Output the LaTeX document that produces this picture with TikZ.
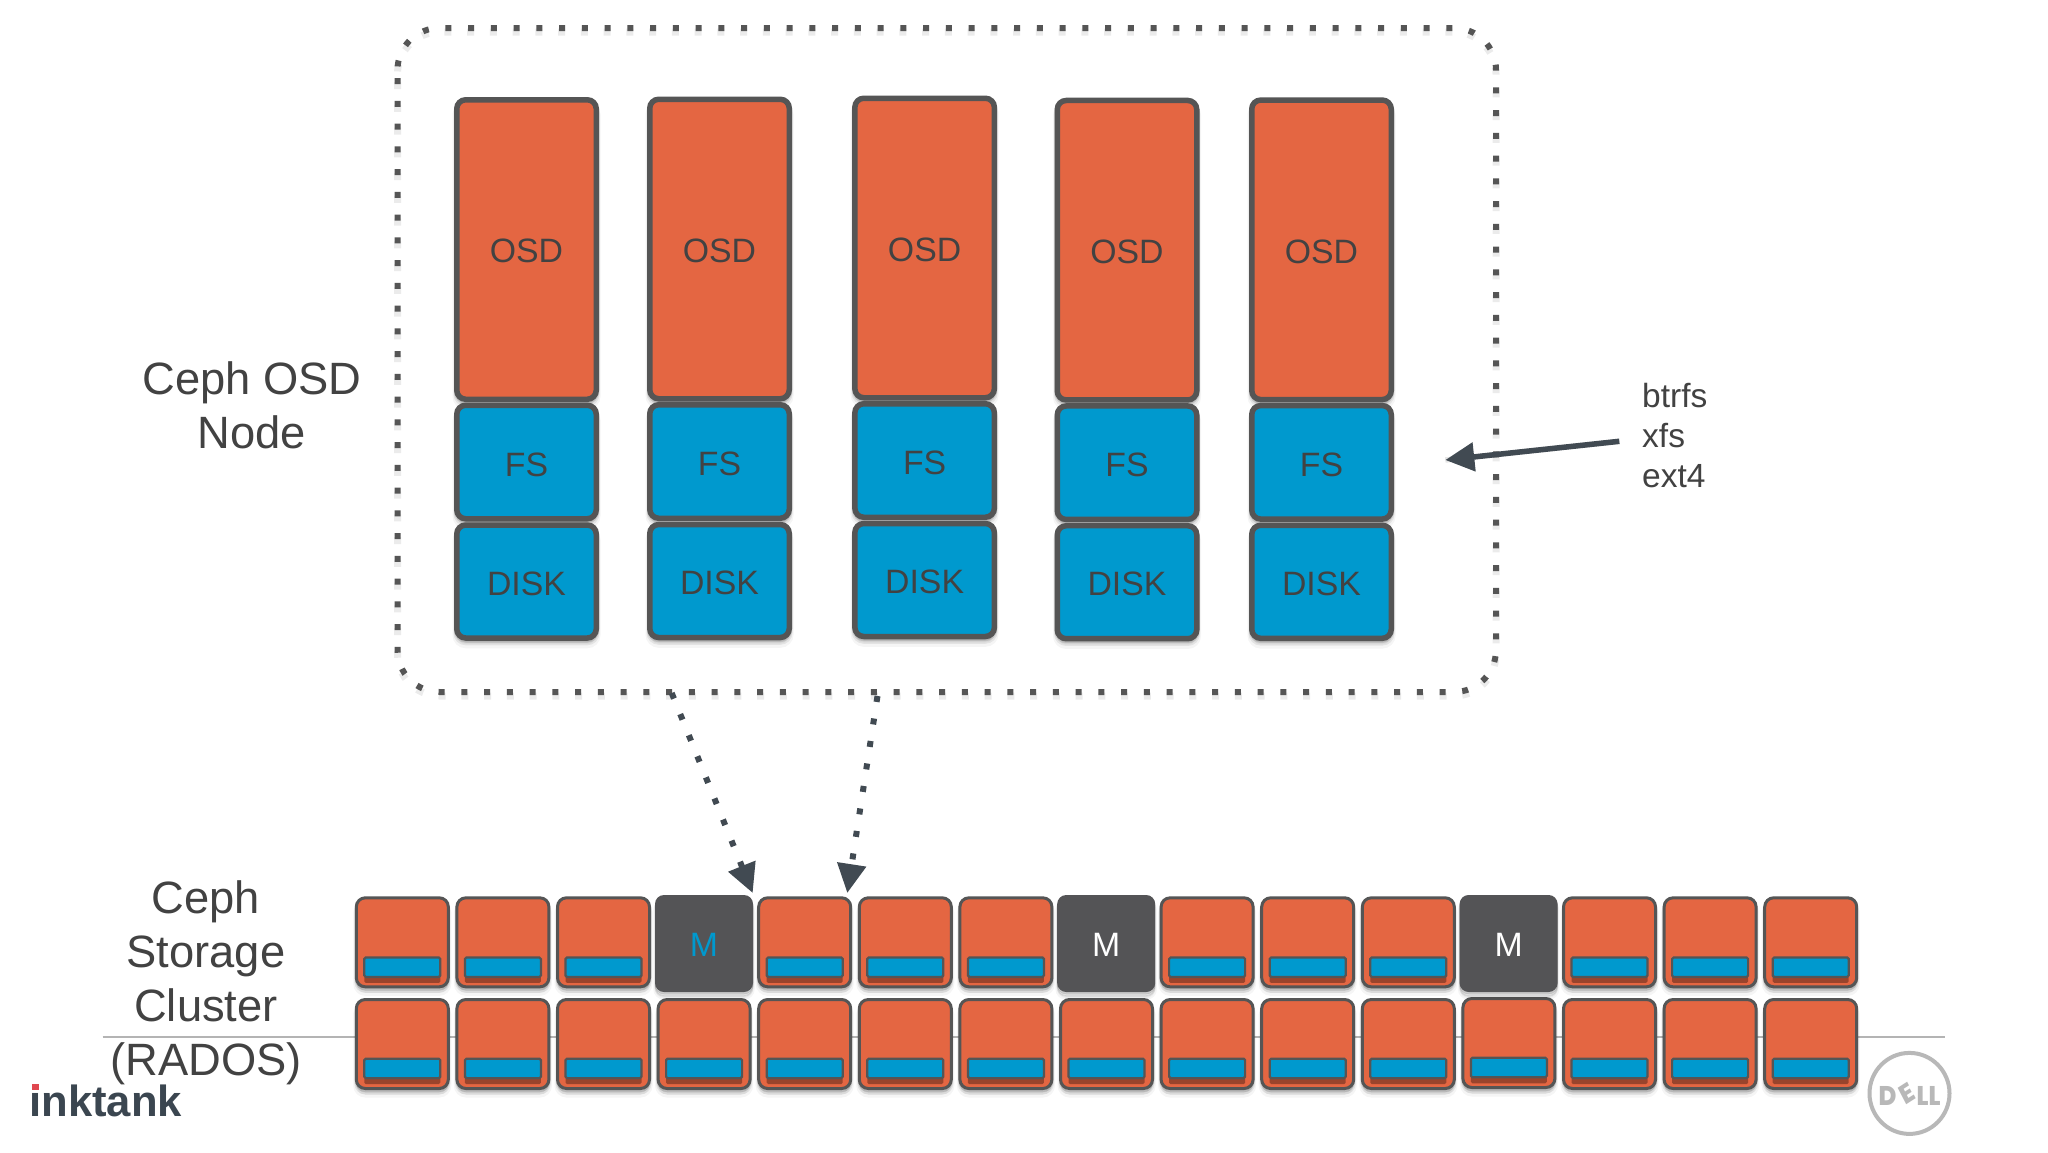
\documentclass[tikz,border=0pt]{standalone}
\usepackage{fontspec}
\setmainfont{Liberation Sans}
\newfontfamily\logofont{Liberation Sans}
\newfontfamily\delllogofont{Poppins ExtraBold}
\usetikzlibrary{arrows.meta,shapes.geometric}
\definecolor{osdorange}{HTML}{E46642}
\definecolor{fsblue}{HTML}{0099CE}
\definecolor{edgegrey}{HTML}{555555}
\definecolor{monblock}{HTML}{545456}
\definecolor{inktxt}{HTML}{424242}
\definecolor{arrowslate}{HTML}{414A52}
\definecolor{logoslate}{HTML}{3B4650}
\definecolor{logored}{HTML}{E0474F}
\definecolor{rulegrey}{HTML}{B4B4B4}
\definecolor{delllogo}{HTML}{B8B8B8}
\tikzset{
  softsh/.style={
    preaction={fill=black,draw=black,opacity=.04,line width=#1+3pt,transform canvas={yshift=-6pt}},
    preaction={fill=black,draw=black,opacity=.07,line width=#1+1pt,transform canvas={yshift=-4pt}},
    preaction={fill=black,draw=black,opacity=.10,line width=#1,transform canvas={yshift=-2pt}}},
  bigblock/.style={draw=edgegrey,line width=5.5pt,rounded corners=9pt,minimum width=139.5pt,inner sep=0pt,softsh=5.5pt,text=inktxt,font=\fontsize{33.8}{40}\selectfont},
  osdblock/.style={bigblock,fill=osdorange,text height=26.4pt,text depth=0pt},
  fsblock/.style={bigblock,fill=fsblue,text height=28pt,text depth=0pt},
  diskblock/.style={bigblock,fill=fsblue,text height=27pt,text depth=0pt},
  clusterbox/.style={draw=edgegrey,line width=3pt,rounded corners=9pt,fill=osdorange,minimum width=92pt,minimum height=89pt,inner sep=0pt,softsh=3pt},
  diskbar/.style={draw=edgegrey,line width=2.2pt,rounded corners=1.5pt,fill=fsblue,minimum width=76pt,minimum height=19.5pt,inner sep=0pt,
    preaction={fill=black!65!osdorange,opacity=.5,transform canvas={yshift=-6pt}}},
  monbox/.style={fill=monblock,rounded corners=9pt,minimum width=98pt,minimum height=97pt,inner sep=0pt,softsh=0.5pt,font=\fontsize{33.8}{40}\selectfont,text height=26pt,text depth=0pt},
  dotline/.style={draw=edgegrey,line width=6pt,dash pattern=on 6pt off 16.75pt},
  dotshadow/.style={draw=black,opacity=.08,line width=7pt,dash pattern=on 7pt off 15.75pt},
  bigtext/.style={text=inktxt,font=\fontsize{45.3}{54}\selectfont,align=center,inner sep=0pt},
  sidetext/.style={text=inktxt,font=\fontsize{33.5}{40}\selectfont,align=left,inner sep=0pt},
  tiparrow/.style={-{Triangle[length=29pt,width=28pt]},arrowslate}
}
\begin{document}
\begin{tikzpicture}[x=1pt,y=-1pt]
\path[use as bounding box,fill=white] (0,0) rectangle (2048,1152);
% rule behind the cluster
\coordinate (ruleL) at (102.5,1036.7);
\coordinate (ruleR) at (1945,1036.7);
\draw[rulegrey,line width=2pt] (ruleL) -- (ruleR);
% OSD columns
\foreach \n/\xc/\dy in {1/526.5/0,2/719.5/-0.5,3/924.6/-1.5,4/1127/0.7,5/1321.5/0.3}{
  \node[osdblock,minimum height=299.5pt] (osd\n) at (\xc,249.5+\dy) {OSD};
  \node[fsblock,minimum height=113.5pt] (fs\n) at (\xc,462+\dy) {FS};
  \node[diskblock,minimum height=113pt] (disk\n) at (\xc,581.5+\dy) {DISK};
}
% dotted frame
\begin{scope}[yshift=-4pt]
\draw[dotshadow,rounded corners=42pt] (397.5,78) -- (397.5,692) -- (1496,692) -- (1496,28) -- (397.5,28) -- (397.5,72);
\end{scope}
\draw[dotline,rounded corners=42pt] (397.5,78) -- (397.5,692) -- (1496,692) -- (1496,28) -- (397.5,28) -- (397.5,72);
% cluster
\foreach \i in {0,...,14}{
  \pgfmathsetmacro{\cx}{402.3+100.6*\i}
  \ifnum\i=3 \else\ifnum\i=7 \else\ifnum\i=11 \else
    \node[clusterbox] (top\i) at (\cx,942.3) {};
    \node[diskbar] (topbar\i) at (\cx,967.2) {};
  \fi\fi\fi
  \ifnum\i=11
    \node[clusterbox] (low\i) at (\cx,1043) {};
    \node[diskbar] (lowbar\i) at (\cx,1067.5) {};
  \else
    \node[clusterbox] (low\i) at (\cx,1044) {};
    \node[diskbar] (lowbar\i) at (\cx,1068.4) {};
  \fi
}
\node[monbox,text=fsblue] (mon3) at (704,943.5) {M};
\node[monbox,text=white] (mon7) at (1106.2,943.5) {M};
\node[monbox,text=white] (mon11) at (1508.6,943.5) {M};
% labels
\node[bigtext] (nodelabel) at (252,405.5) {Ceph OSD\\Node};
\node[bigtext] (clusterlabel) at (206,983) {Ceph\\Storage\\Cluster\\(RADOS)};
\node[sidetext,anchor=west] (fslabel) at (1642,436) {btrfs\\[0pt]xfs\\[0pt]ext4};
% file system arrow
\coordinate (fsTail) at (1619.3,441.3);
\coordinate (fsTip) at (1445.3,460);
\begin{scope}[yshift=-3pt]
\draw[black,opacity=.1,line width=5.5pt] (fsTail) -- (fsTip);
\end{scope}
\draw[tiparrow,line width=5.5pt] (fsTail) -- (fsTip);
% dotted connectors
\coordinate (dotA) at (671.7,693);
\coordinate (tipA) at (752.7,893);
\coordinate (dotB) at (877.5,696);
\coordinate (tipB) at (847.3,893);
\draw[dotline,tiparrow] (dotA) -- (tipA);
\draw[dotline,tiparrow] (dotB) -- (tipB);
% logos
\node[anchor=base west,inner sep=0pt,text=logoslate,font=\fontsize{43.6}{43}\logofont\bfseries\selectfont] (inktank) at (29.2,1116) {inktank};
\fill[logored] (32,1084) rectangle (38.8,1089.5);
\node[draw=delllogo,line width=4pt,ellipse,minimum width=80pt,minimum height=81pt,inner sep=0pt] (dellring) at (1909.5,1093.4) {};
\node[text=delllogo,inner sep=0pt,font=\fontsize{27}{27}\delllogofont\selectfont,xscale=.9] (dell) at (dellring.center) {D\rotatebox{30}{E}LL};
\end{tikzpicture}
\end{document}
